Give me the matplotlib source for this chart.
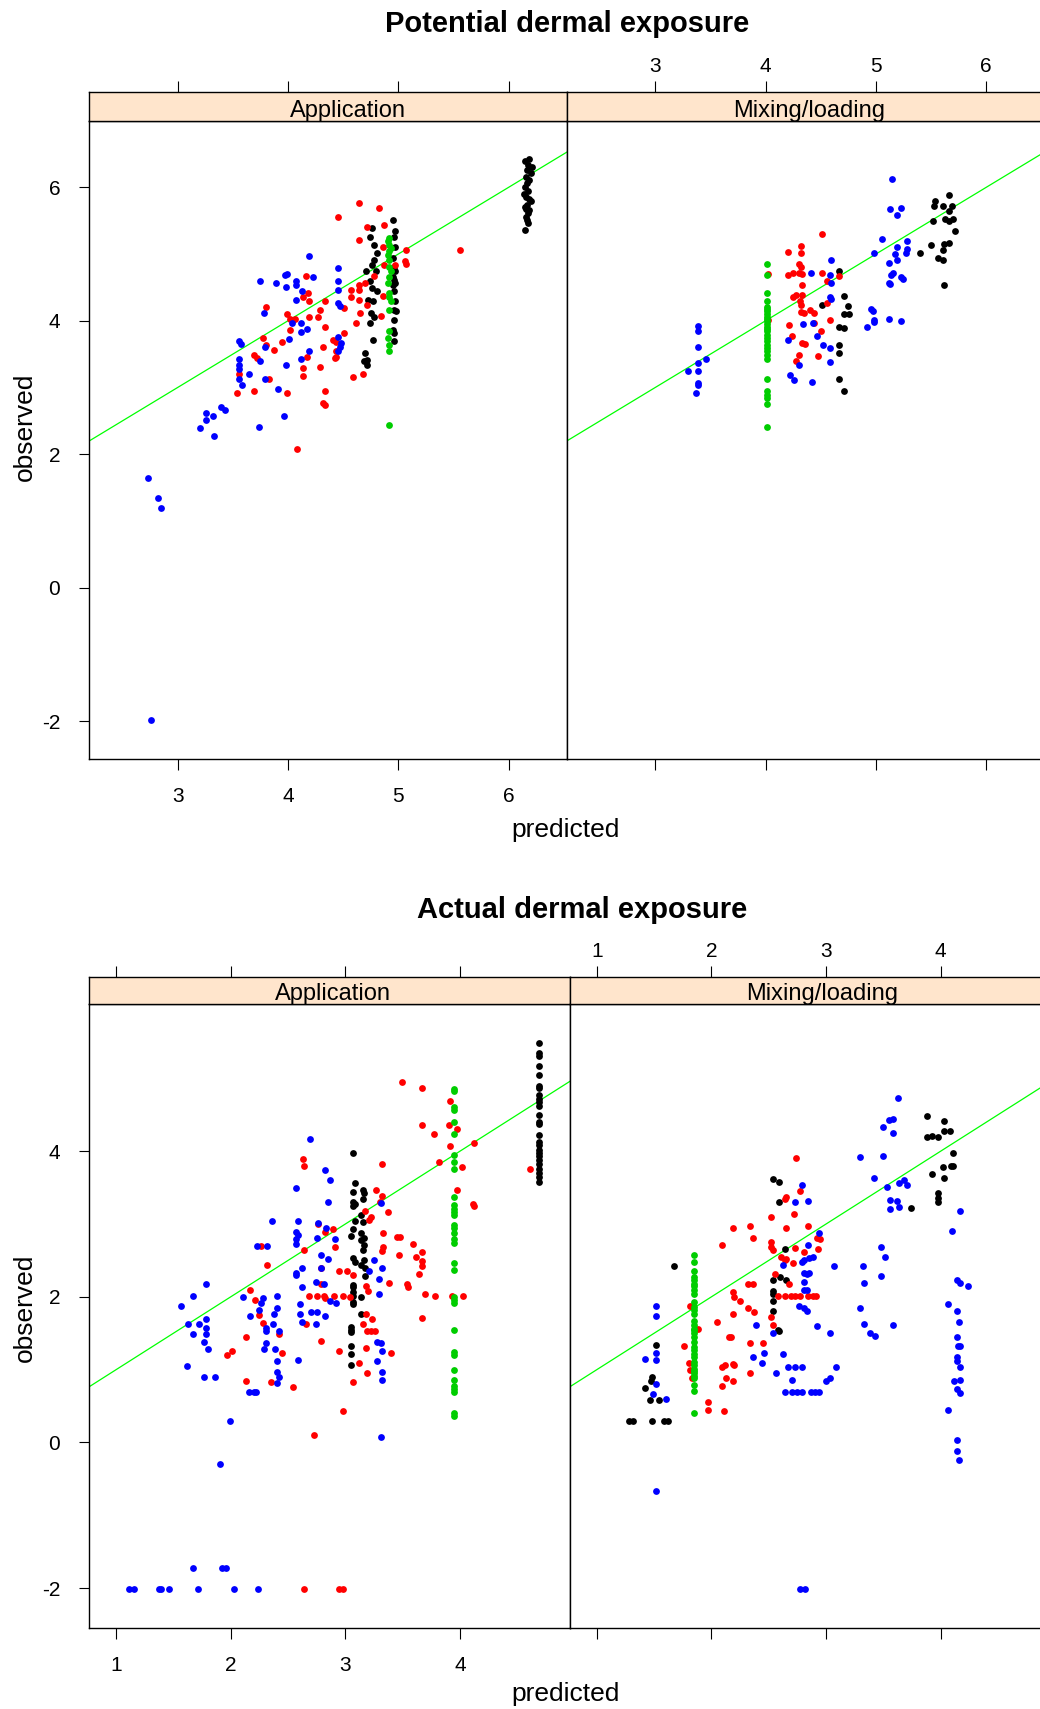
import matplotlib
matplotlib.use("Agg")
import matplotlib.pyplot as plt

plt.rcParams['font.family'] = ['Liberation Sans', 'DejaVu Sans']
plt.rcParams['axes.unicode_minus'] = False

# colours of the four groups
COL_BLUE = '#0000FF'
COL_RED = '#FF0000'
COL_BLACK = '#000000'
COL_GREEN = '#00CD00'
COL_LINE = '#00FF00'
COL_STRIP = '#FFE5CC'

# ---------------------------------------------------------------------------
# Potential dermal exposure - Application  (predicted, observed)
# ---------------------------------------------------------------------------
pot_app_blue = [(4.19, 4.97), (4.45, 4.79), (4.45, 4.60), (4.45, 4.46), (3.97, 4.69), (3.99, 4.70),
                (4.23, 4.66), (3.75, 4.59), (3.89, 4.56), (4.07, 4.59), (4.07, 4.54), (3.98, 4.50),
                (4.13, 4.45), (4.07, 4.31), (4.45, 4.27), (4.47, 4.22), (3.78, 4.12), (4.04, 3.96),
                (4.12, 3.96), (4.12, 3.83), (4.17, 3.88), (4.01, 3.73), (4.45, 3.75), (4.48, 3.67),
                (4.47, 3.61), (3.56, 3.69), (3.57, 3.65), (3.79, 3.61), (4.19, 3.55), (4.45, 3.55),
                (3.75, 3.40), (3.56, 3.43), (3.56, 3.34), (3.56, 3.27), (3.56, 3.12), (3.65, 3.20),
                (3.79, 3.13), (3.58, 3.04), (4.12, 3.43), (3.98, 3.34), (3.91, 2.97), (3.26, 2.62),
                (3.39, 2.70), (3.43, 2.66), (3.32, 2.57), (3.26, 2.52), (3.20, 2.39), (3.33, 2.27),
                (3.74, 2.41), (3.96, 2.57), (2.73, 1.65), (2.82, 1.35), (2.85, 1.19), (2.76, -1.98)]
pot_app_red = [(4.64, 5.76), (4.83, 5.69), (4.45, 5.55), (4.87, 5.44), (4.72, 5.41), (4.64, 5.21),
               (4.86, 5.11), (5.07, 5.06), (5.56, 5.06), (5.06, 4.89), (5.07, 4.85), (4.87, 4.84),
               (4.97, 4.84), (4.78, 4.67), (4.16, 4.67), (4.64, 4.54), (4.70, 4.56), (4.57, 4.46),
               (4.64, 4.46), (4.86, 4.37), (4.57, 4.36), (4.64, 4.31), (4.72, 4.24), (4.18, 4.42),
               (4.14, 4.36), (4.19, 4.29), (4.34, 4.29), (4.29, 4.16), (4.51, 4.19), (3.80, 4.21),
               (4.65, 4.12), (4.84, 4.07), (3.99, 4.10), (4.02, 4.02), (4.06, 4.02), (4.19, 4.05),
               (4.27, 4.05), (4.62, 3.96), (4.34, 3.91), (4.02, 3.86), (3.77, 3.74), (3.95, 3.68),
               (4.41, 3.71), (4.44, 3.68), (4.51, 3.81), (3.80, 3.63), (3.87, 3.56), (4.32, 3.61),
               (4.44, 3.54), (4.44, 3.46), (4.43, 3.44), (4.17, 3.45), (3.69, 3.49), (3.72, 3.44),
               (4.29, 3.30), (4.14, 3.29), (4.14, 3.17), (3.83, 3.13), (4.59, 3.15), (4.68, 3.20),
               (3.54, 2.92), (3.69, 2.95), (3.99, 2.91), (4.34, 2.95), (4.32, 2.76), (4.34, 2.73),
               (4.08, 2.08), (3.56, 3.20)]
pot_app_black = [(6.15, 6.39), (6.18, 6.34), (6.17, 6.26), (6.20, 6.21), (6.16, 6.16), (6.19, 6.11),
                 (6.17, 6.06), (6.15, 6.01), (6.18, 5.94), (6.16, 5.86), (6.20, 5.79), (6.17, 5.74),
                 (6.15, 5.71), (6.19, 5.66), (6.18, 5.61), (6.16, 5.56), (6.17, 5.51), (6.18, 5.46),
                 (6.15, 5.36), (6.19, 6.42), (6.21, 6.30), (6.14, 5.90), (6.19, 5.82), (6.16, 5.68),
                 (4.95, 5.51), (4.97, 5.34), (4.96, 5.26), (4.97, 5.11), (4.95, 4.94), (4.96, 4.81),
                 (4.97, 4.74), (4.95, 4.66), (4.96, 4.61), (4.97, 4.56), (4.95, 4.54), (4.96, 4.44),
                 (4.97, 4.29), (4.96, 4.16), (4.98, 4.14), (4.96, 4.01), (4.95, 3.86), (4.96, 3.81),
                 (4.96, 3.69), (4.76, 5.39), (4.74, 5.26), (4.78, 5.14), (4.81, 5.01), (4.78, 4.91),
                 (4.76, 4.84), (4.80, 4.74), (4.71, 4.75), (4.74, 4.59), (4.76, 4.49), (4.81, 4.44),
                 (4.73, 4.31), (4.77, 4.29), (4.75, 4.11), (4.78, 4.06), (4.74, 3.96), (4.77, 3.71),
                 (4.70, 3.51), (4.72, 3.41), (4.69, 3.39), (4.72, 3.34)]
pot_app_green = [(4.92, 5.24), (4.91, 5.19), (4.92, 5.14), (4.93, 5.09), (4.92, 5.04), (4.91, 4.99),
                 (4.92, 4.91), (4.92, 4.81), (4.93, 4.74), (4.92, 4.66), (4.91, 4.56), (4.92, 4.41),
                 (4.92, 4.36), (4.93, 4.29), (4.92, 4.16), (4.92, 3.84), (4.91, 3.74), (4.92, 3.64),
                 (4.92, 3.54), (4.92, 2.44)]

# ---------------------------------------------------------------------------
# Potential dermal exposure - Mixing/loading
# ---------------------------------------------------------------------------
pot_mix_blue = [(3.39, 3.92), (3.39, 3.84), (3.39, 3.61), (3.46, 3.43), (3.39, 3.36), (3.30, 3.25),
                (3.39, 3.24), (3.39, 3.06), (3.39, 3.03), (3.37, 2.91), (4.59, 4.91), (4.41, 4.72),
                (4.58, 4.68), (4.59, 4.56), (4.58, 4.36), (4.59, 4.32), (4.30, 3.34), (4.34, 3.95),
                (4.43, 3.97), (4.20, 3.71), (4.47, 3.77), (4.52, 3.64), (4.58, 3.59), (4.58, 3.38),
                (4.22, 3.18), (4.26, 3.11), (4.42, 3.08), (5.15, 6.13), (5.13, 5.67), (5.23, 5.69),
                (5.19, 5.58), (5.06, 5.23), (4.98, 5.02), (5.28, 5.19), (5.19, 5.11), (5.28, 5.08),
                (5.17, 5.00), (5.27, 5.01), (5.12, 4.86), (5.19, 4.91), (5.16, 4.71), (5.14, 4.69),
                (5.23, 4.66), (5.25, 4.62), (5.12, 4.56), (5.13, 4.55), (4.96, 4.17), (4.97, 4.14),
                (4.98, 4.01), (4.98, 3.98), (5.12, 4.03), (5.23, 4.00), (4.92, 3.91)]
pot_mix_red = [(4.51, 5.30), (4.32, 5.12), (4.32, 5.01), (4.20, 5.03), (4.30, 4.85), (4.32, 4.81),
               (4.30, 4.71), (4.25, 4.72), (4.20, 4.68), (4.33, 4.70), (4.51, 4.72), (4.02, 4.70),
               (4.67, 4.67), (4.33, 4.54), (4.25, 4.36), (4.28, 4.38), (4.33, 4.38), (4.31, 4.29),
               (4.32, 4.24), (4.56, 4.59), (4.56, 4.26), (4.40, 4.16), (4.44, 4.11), (4.32, 4.13),
               (4.35, 4.12), (4.58, 4.01), (4.44, 3.96), (4.21, 3.94), (4.50, 3.85), (4.24, 3.77),
               (4.33, 3.66), (4.36, 3.65), (4.30, 3.48), (4.48, 3.47), (4.28, 3.39), (4.02, 4.01)]
pot_mix_black = [(4.67, 4.75), (4.71, 4.37), (4.75, 4.22), (4.51, 4.24), (4.71, 4.10), (4.76, 4.10),
                 (4.67, 3.91), (4.71, 3.89), (4.67, 3.63), (4.67, 3.51), (4.67, 3.13), (4.71, 2.94),
                 (5.66, 5.88), (5.54, 5.79), (5.53, 5.72), (5.61, 5.72), (5.69, 5.72), (5.66, 5.64),
                 (5.63, 5.53), (5.70, 5.52), (5.66, 5.49), (5.52, 5.49), (5.72, 5.34), (5.50, 5.14),
                 (5.62, 5.15), (5.66, 5.16), (5.61, 5.06), (5.40, 5.01), (5.56, 4.94), (5.61, 4.91),
                 (5.62, 4.54)]
pot_mix_green = [(4.01, 4.85), (4.01, 4.69), (4.01, 4.42), (4.01, 4.30), (4.01, 4.21), (4.01, 4.17),
                 (4.01, 4.14), (4.01, 4.10), (4.01, 4.06), (4.01, 4.02), (4.01, 3.99), (4.01, 3.95),
                 (4.01, 3.91), (4.01, 3.87), (4.01, 3.84), (4.01, 3.79), (4.01, 3.74), (4.01, 3.69),
                 (4.01, 3.64), (4.01, 3.59), (4.01, 3.54), (4.01, 3.49), (4.01, 3.42), (4.01, 3.12),
                 (4.01, 2.94), (4.01, 2.89), (4.01, 2.84), (4.01, 2.75), (4.01, 2.41)]

# ---------------------------------------------------------------------------
# Actual dermal exposure - Application
# ---------------------------------------------------------------------------
act_app_blue = [(2.69, 4.17), (2.82, 3.74), (2.87, 3.61), (2.57, 3.50), (2.85, 3.30), (2.36, 3.04),
                (2.59, 3.04), (2.76, 3.02), (2.83, 2.95), (2.57, 2.89), (2.59, 2.85), (2.57, 2.79),
                (2.75, 2.81), (2.91, 2.79), (2.57, 2.73), (2.23, 2.70), (2.32, 2.70), (2.79, 2.58),
                (2.85, 2.52), (3.25, 2.50), (2.62, 2.40), (2.79, 2.40), (2.57, 2.33), (2.57, 2.30),
                (3.32, 2.40), (3.21, 2.36), (3.29, 2.25), (2.62, 2.13), (2.74, 2.21), (2.81, 2.17),
                (3.29, 2.04), (1.78, 2.18), (1.67, 2.01), (1.57, 1.88), (2.11, 2.00), (2.28, 1.99),
                (2.26, 1.91), (2.40, 2.01), (2.87, 1.94), (2.92, 1.92), (2.60, 1.90), (2.25, 1.82),
                (2.40, 1.84), (2.38, 1.76), (2.17, 1.74), (2.60, 1.76), (2.70, 1.79), (2.75, 1.79),
                (2.82, 1.74), (1.78, 1.69), (1.63, 1.62), (1.72, 1.62), (1.78, 1.57), (2.37, 1.62),
                (2.62, 1.66), (2.74, 1.62), (2.31, 1.57), (3.31, 3.29), (1.67, 1.49), (1.78, 1.49),
                (1.77, 1.38), (1.80, 1.28), (1.62, 1.05), (1.77, 0.90), (1.86, 0.90), (2.31, 1.53),
                (2.31, 1.36), (2.29, 1.28), (2.39, 1.28), (2.42, 1.53), (2.40, 1.12), (2.40, 0.97),
                (2.42, 0.90), (2.40, 0.82), (2.16, 0.70), (2.20, 0.70), (2.22, 0.70), (2.59, 1.13),
                (3.28, 1.38), (3.31, 1.36), (3.32, 1.26), (3.28, 1.12), (3.32, 0.97), (3.32, 0.86),
                (3.31, 0.08), (1.99, 0.29), (1.91, -0.29), (1.67, -1.72), (1.92, -1.72), (1.96, -1.72),
                (1.11, -2.01), (1.16, -2.01), (1.37, -2.01), (1.39, -2.01), (1.46, -2.01), (1.71, -2.01),
                (2.03, -2.01), (2.24, -2.01)]
act_app_red = [(3.49, 4.95), (3.67, 4.87), (3.91, 4.69), (3.67, 4.36), (3.90, 4.36), (3.97, 4.30),
               (3.77, 4.23), (3.91, 4.07), (4.12, 4.11), (3.82, 3.85), (4.02, 3.78), (3.97, 3.46),
               (4.11, 3.27), (4.12, 3.25), (3.32, 3.82), (3.27, 3.46), (3.32, 3.38), (3.30, 3.30),
               (3.37, 3.16), (3.17, 3.18), (3.22, 3.10), (3.21, 3.05), (3.33, 2.87), (3.45, 2.82),
               (3.48, 2.82), (3.59, 2.72), (3.67, 2.62), (3.33, 2.69), (3.32, 2.63), (3.47, 2.58),
               (3.62, 2.54), (3.67, 2.49), (3.67, 2.42), (3.64, 2.31), (3.54, 2.17), (3.55, 2.13),
               (3.69, 2.04), (3.78, 2.01), (3.93, 2.01), (4.03, 2.01), (3.38, 2.19), (3.18, 2.15),
               (3.20, 2.08), (2.94, 2.36), (3.01, 2.36), (3.07, 2.30), (2.63, 3.89), (2.64, 3.80),
               (2.76, 3.00), (2.82, 2.89), (2.89, 2.93), (2.91, 2.68), (2.64, 2.64), (2.32, 2.43),
               (2.79, 2.39), (2.79, 2.18), (2.26, 2.70), (2.17, 2.09), (2.21, 1.96), (2.68, 2.01),
               (2.75, 2.01), (2.81, 2.01), (2.82, 1.99), (2.90, 2.01), (2.98, 2.01), (3.04, 2.00),
               (2.25, 1.75), (2.28, 1.64), (2.66, 1.63), (3.15, 1.63), (3.18, 1.76), (3.23, 1.70),
               (3.67, 1.71), (3.19, 1.53), (3.22, 1.53), (3.26, 1.53), (2.42, 1.49), (2.13, 1.45),
               (2.45, 1.23), (2.79, 1.40), (2.94, 1.26), (3.18, 1.30), (3.40, 1.23), (1.97, 1.20),
               (2.01, 1.26), (3.12, 1.09), (3.19, 0.95), (2.13, 0.85), (2.35, 0.83), (2.54, 0.76),
               (3.07, 0.83), (2.98, 0.43), (2.73, 0.10), (2.64, -2.01), (2.94, -2.01), (2.98, -2.01),
               (4.61, 3.76)]
act_app_black = [(4.69, 5.49), (4.69, 5.35), (4.69, 5.30), (4.69, 5.17), (4.69, 5.04), (4.69, 4.89),
                 (4.69, 4.86), (4.69, 4.77), (4.69, 4.72), (4.69, 4.68), (4.69, 4.62), (4.69, 4.49),
                 (4.69, 4.40), (4.69, 4.37), (4.69, 4.22), (4.69, 4.13), (4.69, 4.08), (4.69, 4.02),
                 (4.69, 3.98), (4.69, 3.93), (4.69, 3.88), (4.69, 3.83), (4.69, 3.76), (4.69, 3.70),
                 (4.69, 3.65), (4.69, 3.58), (3.07, 3.97), (3.08, 3.56), (3.07, 3.44), (3.15, 3.46),
                 (3.16, 3.43), (3.15, 3.34), (3.07, 3.30), (3.08, 3.27), (3.07, 3.24), (3.14, 3.12),
                 (3.15, 3.03), (3.08, 3.04), (3.07, 2.93), (3.14, 2.87), (3.05, 2.83), (3.16, 2.81),
                 (3.14, 2.78), (3.16, 2.71), (3.15, 2.64), (3.07, 2.53), (3.08, 2.48), (3.16, 2.50),
                 (3.14, 2.43), (3.17, 2.39), (3.17, 2.28), (3.07, 2.16), (3.07, 2.13), (3.07, 2.07),
                 (3.07, 2.01), (3.14, 2.00), (3.07, 1.93), (3.07, 1.90), (3.14, 1.77), (3.05, 1.59),
                 (3.05, 1.55), (3.05, 1.52), (3.05, 1.33), (3.05, 1.22), (3.05, 1.07)]
act_app_green = [(3.95, 4.85), (3.95, 4.82), (3.95, 4.60), (3.95, 4.56), (3.95, 4.40), (3.95, 4.23),
                 (3.95, 3.95), (3.95, 3.85), (3.95, 3.75), (3.95, 3.37), (3.95, 3.26), (3.95, 3.21),
                 (3.95, 3.17), (3.95, 3.12), (3.95, 2.98), (3.95, 2.94), (3.95, 2.87), (3.95, 2.79),
                 (3.95, 2.74), (3.95, 2.46), (3.95, 2.37), (3.95, 2.00), (3.95, 1.95), (3.95, 1.92),
                 (3.95, 1.55), (3.95, 1.24), (3.95, 1.20), (3.95, 0.99), (3.95, 0.86), (3.95, 0.77),
                 (3.95, 0.73), (3.95, 0.69), (3.95, 0.40), (3.95, 0.37)]

# ---------------------------------------------------------------------------
# Actual dermal exposure - Mixing/loading
# ---------------------------------------------------------------------------
act_mix_blue = [(3.63, 4.73), (3.55, 4.43), (3.58, 4.44), (3.50, 4.33), (3.58, 4.25), (3.30, 3.92),
                (3.50, 3.94), (3.42, 3.63), (3.53, 3.51), (3.68, 3.61), (3.64, 3.56), (3.71, 3.53),
                (3.56, 3.33), (3.62, 3.31), (3.64, 3.23), (3.56, 3.21), (4.17, 3.18), (4.10, 2.91),
                (2.79, 3.53), (2.73, 3.30), (2.84, 3.32), (2.94, 2.88), (2.84, 2.71), (3.48, 2.69),
                (3.51, 2.54), (2.81, 2.51), (2.85, 2.53), (2.89, 2.54), (2.79, 2.48), (3.07, 2.42),
                (3.32, 2.42), (2.81, 2.33), (2.85, 2.33), (2.83, 2.32), (3.33, 2.19), (3.48, 2.29),
                (2.81, 2.21), (2.81, 2.09), (2.83, 2.09), (2.76, 1.88), (2.81, 1.84), (2.83, 1.81),
                (3.30, 1.84), (4.14, 2.23), (4.17, 2.19), (4.24, 2.15), (4.06, 1.90), (4.14, 1.81),
                (4.16, 1.65), (1.52, 1.88), (1.52, 1.73), (2.39, 1.61), (2.92, 1.60), (3.33, 1.62),
                (3.58, 1.61), (2.62, 2.43), (3.38, 1.50), (3.43, 1.46), (4.14, 1.45), (4.15, 1.32),
                (4.17, 1.32), (4.14, 1.17), (4.14, 1.12), (4.17, 1.03), (4.12, 0.85), (4.17, 0.86),
                (4.14, 0.73), (4.17, 0.68), (4.06, 0.45), (4.14, 0.04), (4.14, -0.11), (4.16, -0.24),
                (3.03, 1.50), (2.54, 1.50), (2.46, 1.23), (2.36, 1.17), (2.44, 1.09), (2.62, 1.22),
                (2.56, 0.95), (2.67, 1.03), (2.73, 1.03), (2.79, 1.03), (2.70, 0.86), (3.09, 1.03),
                (3.03, 0.89), (3.00, 0.84), (2.64, 0.70), (2.70, 0.70), (2.75, 0.70), (2.79, 0.70),
                (2.87, 0.70), (2.90, 0.70), (2.94, 0.70), (1.42, 1.14), (1.52, 1.23), (1.52, 1.13),
                (1.52, 0.80), (1.49, 0.66), (1.60, 0.60), (1.52, -0.67), (2.77, -2.01), (2.82, -2.01)]
act_mix_red = [(2.74, 3.90), (2.77, 3.45), (2.65, 3.37), (2.64, 3.34), (2.72, 3.14), (2.52, 3.10),
               (2.84, 2.97), (2.65, 2.95), (2.19, 2.95), (2.34, 2.97), (2.36, 2.81), (2.09, 2.71),
               (2.92, 2.81), (2.95, 2.79), (2.52, 2.75), (2.52, 2.69), (2.54, 2.64), (2.73, 2.67),
               (2.81, 2.61), (2.93, 2.65), (2.61, 2.55), (2.65, 2.52), (2.71, 2.46), (2.64, 2.50),
               (2.55, 2.32), (2.32, 2.17), (2.36, 2.17), (2.68, 2.18), (2.19, 2.07), (2.20, 2.00),
               (2.25, 1.94), (2.58, 2.01), (2.64, 2.01), (2.69, 2.01), (2.73, 2.01), (2.77, 2.01),
               (2.84, 2.01), (2.89, 2.01), (2.91, 2.01), (2.32, 1.84), (2.37, 1.79), (2.19, 1.77),
               (2.52, 1.72), (2.54, 1.61), (2.05, 1.66), (1.81, 1.88), (1.88, 1.56), (2.15, 1.45),
               (2.17, 1.45), (1.76, 1.32), (1.80, 1.09), (1.81, 0.99), (1.83, 0.89), (2.09, 1.03),
               (2.12, 1.07), (2.19, 1.08), (2.20, 1.06), (2.34, 1.36), (2.45, 1.36), (2.34, 0.95),
               (2.13, 0.89), (2.19, 0.85), (2.09, 0.78), (1.97, 0.56), (1.97, 0.45), (2.11, 0.43)]
act_mix_black = [(3.88, 4.48), (4.03, 4.42), (4.03, 4.28), (4.08, 4.27), (3.88, 4.20), (3.92, 4.21),
                 (3.98, 4.20), (4.11, 3.98), (4.02, 3.78), (4.09, 3.80), (4.11, 3.80), (3.92, 3.68),
                 (4.03, 3.63), (3.98, 3.42), (3.98, 3.36), (3.98, 3.30), (3.74, 3.22), (2.54, 3.62),
                 (2.59, 3.57), (2.59, 3.30), (2.64, 2.66), (2.60, 2.27), (2.65, 2.23), (2.54, 2.23),
                 (2.54, 2.08), (2.54, 2.04), (2.54, 1.94), (2.54, 1.81), (1.67, 2.42), (2.58, 1.54),
                 (2.59, 1.53), (1.52, 1.34), (1.48, 0.90), (1.47, 0.85), (1.42, 0.75), (1.46, 0.59),
                 (1.54, 0.59), (1.28, 0.29), (1.32, 0.29), (1.48, 0.29), (1.59, 0.29), (1.62, 0.29)]
act_mix_green = [(1.85, 2.58), (1.85, 2.48), (1.85, 2.36), (1.85, 2.27), (1.85, 2.23), (1.85, 2.18),
                 (1.85, 2.15), (1.85, 2.10), (1.85, 2.04), (1.85, 1.93), (1.85, 1.86), (1.85, 1.82),
                 (1.85, 1.77), (1.85, 1.67), (1.85, 1.61), (1.85, 1.56), (1.85, 1.54), (1.85, 1.50),
                 (1.85, 1.45), (1.85, 1.38), (1.85, 1.31), (1.85, 1.27), (1.85, 1.22), (1.85, 1.17),
                 (1.85, 1.11), (1.85, 1.06), (1.85, 1.01), (1.85, 0.98), (1.85, 0.95), (1.85, 0.91),
                 (1.85, 0.88), (1.85, 0.79), (1.85, 0.71), (1.85, 0.40)]

# axis settings of the two lattice plots
pot_xlim = (2.2, 6.53)
pot_ylim = (-2.565, 6.995)
pot_xticks = [3, 4, 5, 6]
pot_yticks = [-2, 0, 2, 4, 6]
act_xlim = (0.767, 4.96)
act_ylim = (-2.54, 6.02)
act_xticks = [1, 2, 3, 4]
act_yticks = [-2, 0, 2, 4]

W, H = 1040, 1709
fig = plt.figure(figsize=(W / 100, H / 100), dpi=100)


def box(x0, y0, x1, y1):
    # pixel box (top-left origin) -> figure axes
    return fig.add_axes([x0 / W, 1 - y1 / H, (x1 - x0) / W, (y1 - y0) / H])


def draw_panel(pbox, sbox, groups, xlim, ylim, xticks, yticks, name, name_x, first):
    ax = box(*pbox)
    ax.plot(xlim, xlim, color=COL_LINE, lw=0.9, zorder=2)
    for pts, col in groups:
        ax.scatter([p[0] for p in pts], [p[1] for p in pts], s=24, c=col,
                   linewidths=0, zorder=3)
    ax.set_xlim(xlim)
    ax.set_ylim(ylim)
    ax.set_xticks(xticks)
    ax.tick_params(axis='x', direction='out', length=8, width=0.8, pad=12.5,
                   labelsize=15, labelbottom=first, top=False)
    if first:
        ax.set_yticks(yticks)
        ax.tick_params(axis='y', direction='out', length=7, width=0.8, pad=14,
                       labelsize=15, right=False)
    else:
        ax.set_yticks([])
    for sp in ax.spines.values():
        sp.set_linewidth(1.0)

    sax = box(*sbox)
    sax.set_facecolor(COL_STRIP)
    sax.set_xlim(xlim)
    sax.set_ylim(0, 1)
    sax.set_xticks(xticks)
    sax.xaxis.tick_top()
    sax.tick_params(axis='x', direction='out', length=8, width=0.8, pad=3,
                    labelsize=15, labeltop=not first, bottom=False)
    sax.set_yticks([])
    for sp in sax.spines.values():
        sp.set_linewidth(1.0)
    sax.text(name_x, 0.15, name, transform=sax.transAxes, ha='center', va='baseline',
             fontsize=17)


# ---------------- top: Potential dermal exposure ----------------
draw_panel((89.4, 121, 567, 758.7), (89.4, 91.6, 567, 121),
           [(pot_app_black, COL_BLACK), (pot_app_red, COL_RED),
            (pot_app_green, COL_GREEN), (pot_app_blue, COL_BLUE)],
           pot_xlim, pot_ylim, pot_xticks, pot_yticks, 'Application', 0.541, True)
draw_panel((567, 121, 1044.6, 758.7), (567, 91.6, 1044.6, 121),
           [(pot_mix_black, COL_BLACK), (pot_mix_red, COL_RED),
            (pot_mix_green, COL_GREEN), (pot_mix_blue, COL_BLUE)],
           pot_xlim, pot_ylim, pot_xticks, pot_yticks, 'Mixing/loading', 0.507, False)
fig.text(567 / W, 1 - 23.5 / H, 'Potential dermal exposure', ha='center', va='center',
         fontsize=21, fontweight='bold')
fig.text(566 / W, 1 - 830.5 / H, 'predicted', ha='center', va='center', fontsize=19)
fig.text(25 / W, 1 - 427 / H, 'observed', ha='center', va='center', fontsize=19,
         rotation=90)

# ---------------- bottom: Actual dermal exposure ----------------
draw_panel((89.4, 1004, 570.1, 1627.5), (89.4, 976.7, 570.1, 1004),
           [(act_app_black, COL_BLACK), (act_app_red, COL_RED),
            (act_app_green, COL_GREEN), (act_app_blue, COL_BLUE)],
           act_xlim, act_ylim, act_xticks, act_yticks, 'Application', 0.507, True)
draw_panel((570.1, 1004, 1050.8, 1627.5), (570.1, 976.7, 1050.8, 1004),
           [(act_mix_black, COL_BLACK), (act_mix_red, COL_RED),
            (act_mix_green, COL_GREEN), (act_mix_blue, COL_BLUE)],
           act_xlim, act_ylim, act_xticks, act_yticks, 'Mixing/loading', 0.525, False)
fig.text(581.7 / W, 1 - 910.5 / H, 'Actual dermal exposure', ha='center', va='center',
         fontsize=21, fontweight='bold')
fig.text(566 / W, 1 - 1694.5 / H, 'predicted', ha='center', va='center', fontsize=19)
fig.text(25 / W, 1 - 1308 / H, 'observed', ha='center', va='center', fontsize=19,
         rotation=90)

fig.savefig('out.png', dpi=100)
